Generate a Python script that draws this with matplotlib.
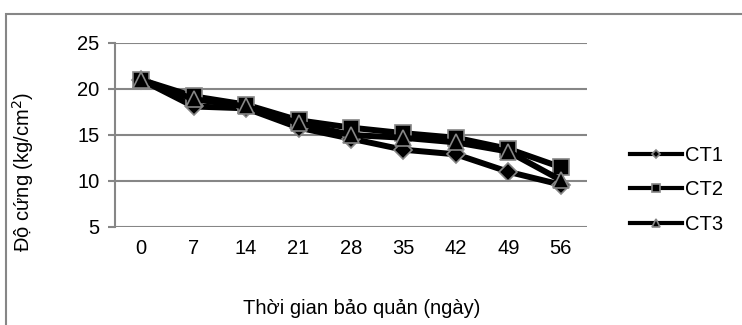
import matplotlib.pyplot as plt
from matplotlib.patches import Rectangle

plt.rcParams['font.family'] = ['Liberation Sans', 'DejaVu Sans']

days = ['0', '7', '14', '21', '28', '35', '42', '49', '56']
ct1 = [21.0, 18.1, 17.9, 15.8, 14.6, 13.4, 12.9, 11.0, 9.6]
ct2 = [21.0, 19.2, 18.3, 16.6, 15.8, 15.2, 14.7, 13.5, 11.5]
ct3 = [21.0, 18.9, 18.1, 16.3, 15.0, 14.7, 14.2, 13.2, 10.1]
names = ['CT1', 'CT2', 'CT3']
yticks = [5, 10, 15, 20, 25]

fs = 14.5

fig = plt.figure(figsize=(7.42, 3.25), dpi=100)
fig.patches.append(Rectangle((6 / 742, -0.1), 1.2, 1 - 14 / 325 + 0.1,
                             transform=fig.transFigure, fill=False,
                             edgecolor='#868686', linewidth=1.5))

ax = fig.add_axes([115 / 742, 1 - 227 / 325, 472 / 742, 184 / 325])
x = range(len(days))
styles = [('D', 9), ('s', 11), ('^', 12)]
for vals, name, (m, ms) in zip([ct1, ct2, ct3], names, styles):
    ax.plot(x, vals, color='black', linewidth=4.3, marker=m, markersize=ms,
            markerfacecolor='black', markeredgecolor='#868686',
            markeredgewidth=1.2, label=name, solid_joinstyle='round')

ax.set_xlim(-0.5, len(days) - 0.5)
ax.set_ylim(5, 25)
ax.set_yticks(yticks)
ax.set_xticks(list(x))
ax.set_xticklabels(days)
ax.grid(axis='y', color='#868686', linewidth=1.5)
ax.set_axisbelow(True)
for s in ['top', 'right', 'bottom']:
    ax.spines[s].set_visible(False)
ax.spines['left'].set_color('#868686')
ax.spines['left'].set_linewidth(1.5)
ax.tick_params(axis='y', length=5, color='#868686', width=1.5, labelsize=fs, pad=6)
ax.tick_params(axis='x', length=0, labelsize=fs, pad=9)

fig.text(362 / 742, 1 - 308 / 325, 'Thời gian bảo quản (ngày)', ha='center', va='center', fontsize=fs)
fig.text(23 / 742, 1 - 172 / 325, 'Độ cứng (kg/cm$^2$)', ha='center', va='center',
         rotation=90, fontsize=fs)

leg = fig.legend(loc='center left', bbox_to_anchor=(612 / 742, 1 - 190 / 325),
                 frameon=False, fontsize=fs, handlelength=2.6, handletextpad=0.1,
                 labelspacing=0.75, markerscale=0.5)
for line in leg.get_lines():
    line.set_linewidth(3)

fig.savefig('out.png', dpi=100)
